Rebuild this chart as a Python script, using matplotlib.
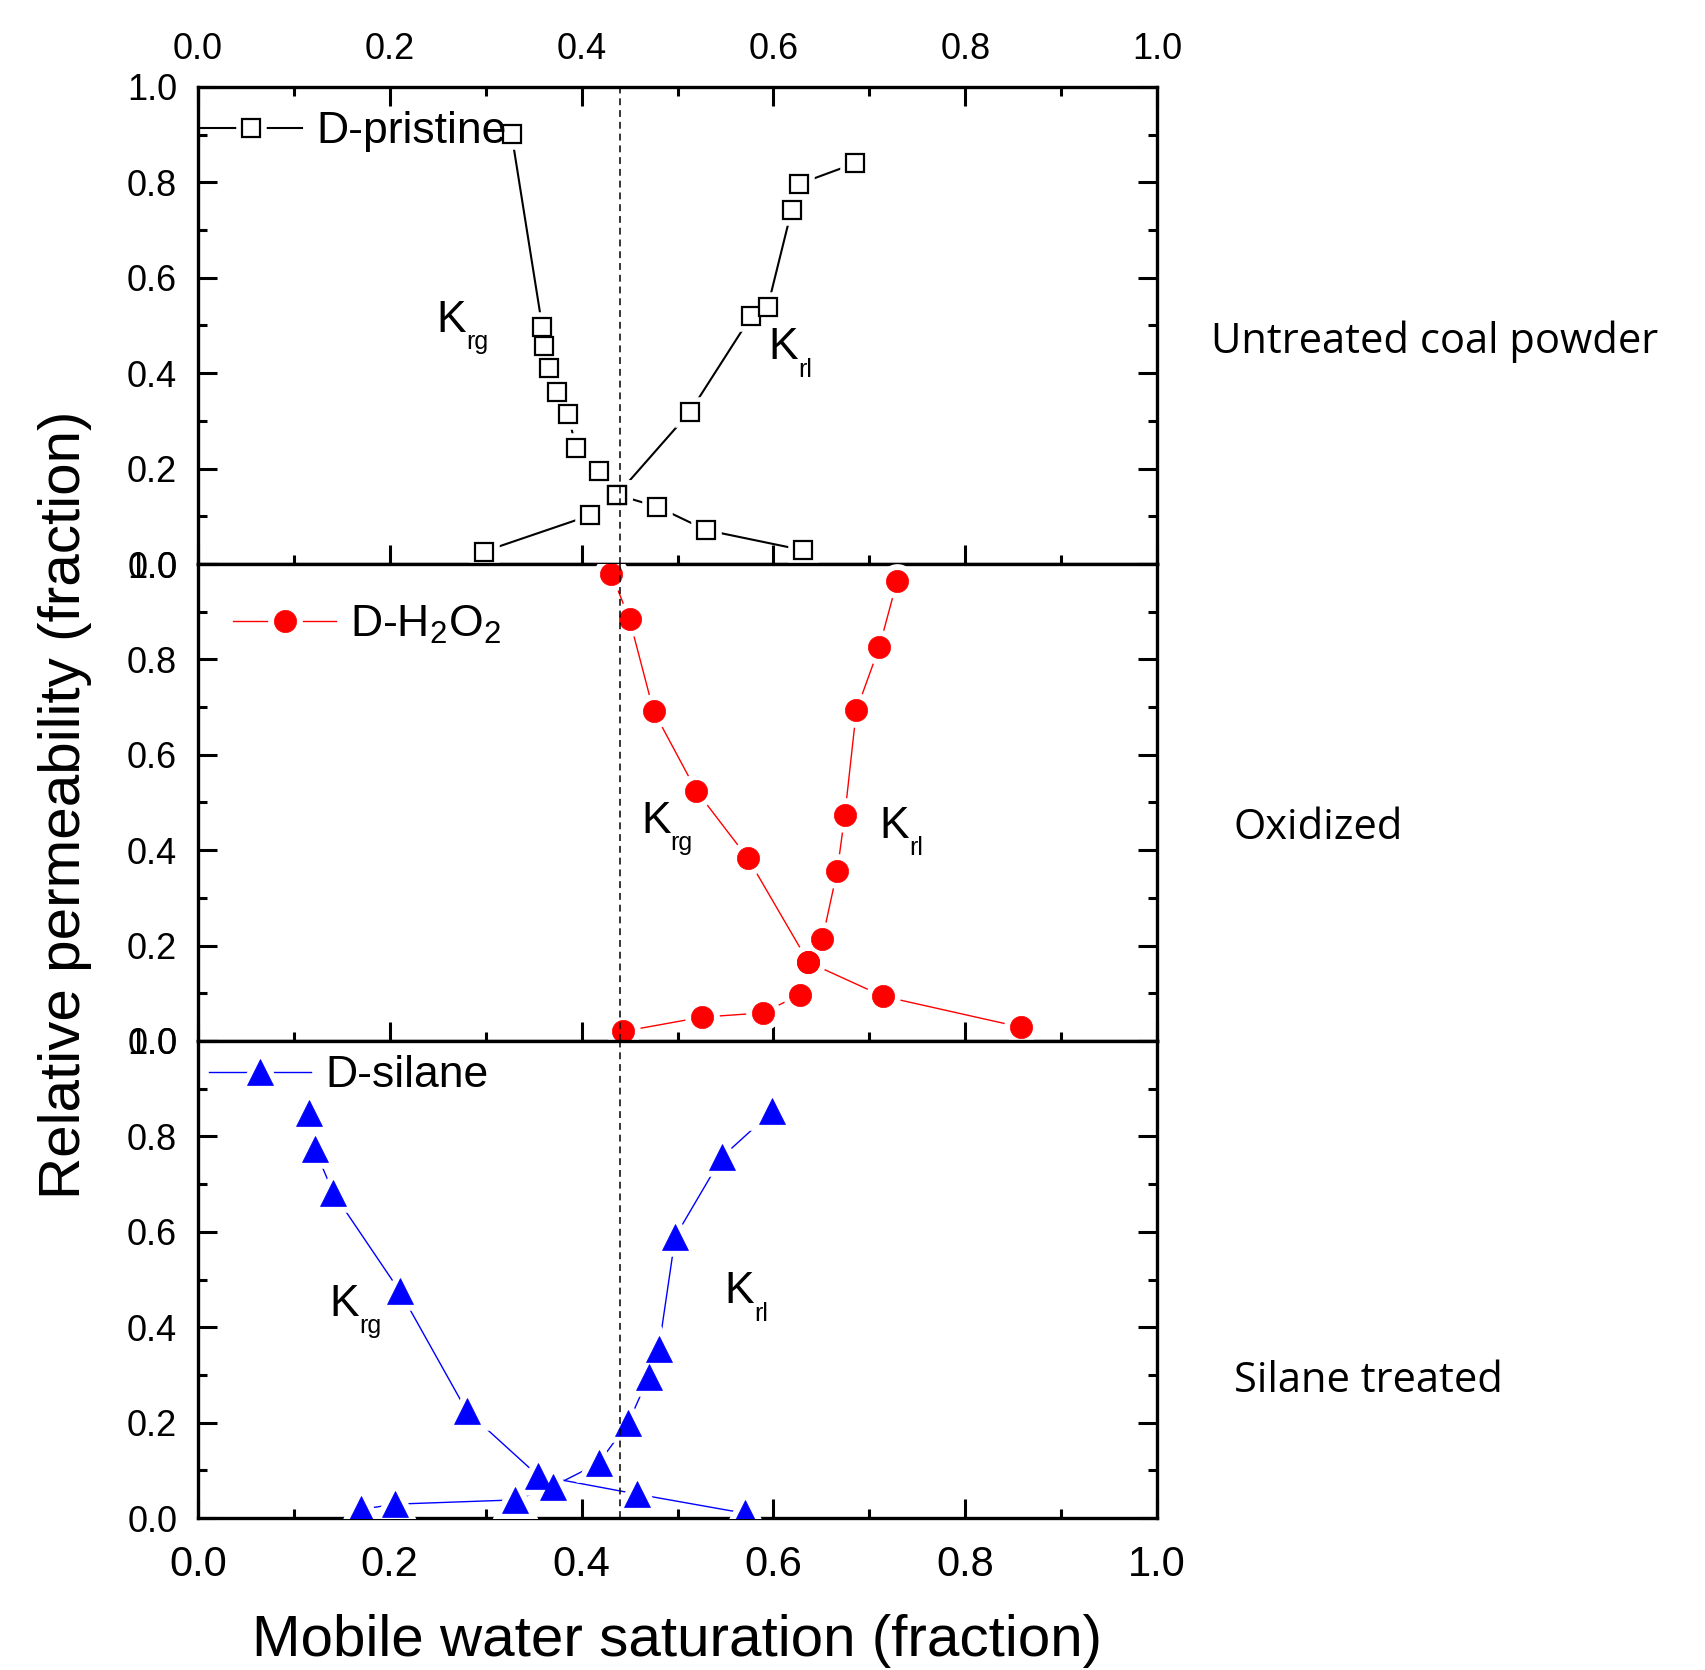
import matplotlib
matplotlib.use("Agg")
import matplotlib.pyplot as plt
from matplotlib.ticker import MultipleLocator, FormatStrFormatter
from matplotlib.legend_handler import HandlerTuple

plt.rcParams["font.family"] = ["Liberation Sans", "DejaVu Sans"]
plt.rcParams["mathtext.fontset"] = "custom"
plt.rcParams["mathtext.rm"] = "Liberation Sans"
plt.rcParams["mathtext.it"] = "Liberation Sans:italic"

# ---- data: mobile water saturation vs relative permeability ----
# Untreated coal powder (D-pristine)
pristine_krg_x = [0.327, 0.359, 0.3605, 0.366, 0.374, 0.386, 0.394, 0.418, 0.437, 0.479, 0.530, 0.631]
pristine_krg_y = [0.901, 0.497, 0.457, 0.410, 0.361, 0.314, 0.244, 0.196, 0.145, 0.120, 0.071, 0.029]
pristine_krl_x = [0.298, 0.409, 0.437, 0.513, 0.577, 0.594, 0.619, 0.627, 0.685]
pristine_krl_y = [0.026, 0.102, 0.145, 0.319, 0.520, 0.539, 0.742, 0.797, 0.840]

# Oxidized (D-H2O2)
h2o2_krg_x = [0.431, 0.450, 0.475, 0.5195, 0.5735, 0.6366, 0.714, 0.858]
h2o2_krg_y = [0.980, 0.884, 0.692, 0.525, 0.383, 0.165, 0.094, 0.029]
h2o2_krl_x = [0.443, 0.5256, 0.5893, 0.6273, 0.6366, 0.651, 0.6666, 0.6745, 0.6865, 0.7106, 0.7289]
h2o2_krl_y = [0.020, 0.050, 0.059, 0.097, 0.165, 0.213, 0.357, 0.474, 0.693, 0.827, 0.964]

# Silane treated (D-silane)
silane_krg_x = [0.1158, 0.1219, 0.1409, 0.2102, 0.280, 0.3544, 0.458, 0.570]
silane_krg_y = [0.850, 0.773, 0.682, 0.476, 0.225, 0.089, 0.050, 0.010]
silane_krl_x = [0.1698, 0.2056, 0.331, 0.3698, 0.4177, 0.4488, 0.4698, 0.4805, 0.4977, 0.5465, 0.599]
silane_krl_y = [0.018, 0.029, 0.038, 0.066, 0.115, 0.200, 0.295, 0.355, 0.590, 0.757, 0.853]

reference_saturation = 0.44

panel_names = ["D-pristine", r"D-H$_\mathregular{2}$O$_\mathregular{2}$", "D-silane"]
panel_titles = ["Untreated coal powder", "Oxidized", "Silane treated"]

# ---- figure layout ----
W, H = 1705, 1670
fig = plt.figure(figsize=(W / 100, H / 100), dpi=100)

left_px, right_px = 198, 1157
tops_px = [87, 564, 1041]
panel_h = 477

axes = []
for t in tops_px:
    ax = fig.add_axes([left_px / W, 1 - (t + panel_h) / H,
                       (right_px - left_px) / W, panel_h / H])
    axes.append(ax)

styles = [
    dict(color="black", lw=1.5, marker="s", ms=13, mfc="white", mec="black", mew=1.6),
    dict(color="#ff0000", lw=1.0, marker="o", ms=16, mfc="#ff0000", mec="#ff0000", mew=0.5),
    dict(color="#0000ff", lw=1.0, marker="^", ms=19, mfc="#0000ff", mec="#0000ff", mew=0.5),
]

series = [
    ((pristine_krg_x, pristine_krg_y), (pristine_krl_x, pristine_krl_y)),
    ((h2o2_krg_x, h2o2_krg_y), (h2o2_krl_x, h2o2_krl_y)),
    ((silane_krg_x, silane_krg_y), (silane_krl_x, silane_krl_y)),
]

# legend anchors (axes fraction) and K-label anchors (data units)
legend_anchor = [(0.002, 0.906), (0.037, 0.872), (0.0116, 0.927)]
krg_label = [(0.249, 0.487), (0.462, 0.437), (0.137, 0.424)]
krl_label = [(0.595, 0.430), (0.711, 0.426), (0.549, 0.451)]
title_pos = [(1.056, 0.442), (1.080, 0.423), (1.080, 0.264)]

for i, ax in enumerate(axes):
    st = styles[i]
    (gx, gy), (lx, ly) = series[i]
    lines, halos, marks = [], [], []
    for xs, ys in [(gx, gy), (lx, ly)]:
        ln, = ax.plot(xs, ys, ls="-", color=st["color"], lw=st["lw"], zorder=2)
        lines.append(ln)
    for xs, ys in [(gx, gy), (lx, ly)]:
        hl, = ax.plot(xs, ys, ls="none", marker=st["marker"], ms=st["ms"],
                      mfc="white", mec="white", mew=9, zorder=3)
        halos.append(hl)
    for xs, ys in [(gx, gy), (lx, ly)]:
        mk, = ax.plot(xs, ys, ls="none", marker=st["marker"], ms=st["ms"],
                      mfc=st["mfc"], mec=st["mec"], mew=st["mew"], zorder=4)
        marks.append(mk)

    ax.axvline(reference_saturation, color="black", lw=1.1, dashes=(4.5, 3.2), zorder=10)

    ax.set_xlim(0, 1)
    ax.set_ylim(0, 1)
    ax.xaxis.set_major_locator(MultipleLocator(0.2))
    ax.xaxis.set_minor_locator(MultipleLocator(0.1))
    ax.yaxis.set_major_locator(MultipleLocator(0.2))
    ax.yaxis.set_minor_locator(MultipleLocator(0.1))
    ax.yaxis.set_major_formatter(FormatStrFormatter("%.1f"))
    ax.xaxis.set_major_formatter(FormatStrFormatter("%.1f"))
    for sp in ax.spines.values():
        sp.set_linewidth(2.4)
    ax.tick_params(which="both", direction="in", left=True, right=True,
                   bottom=True, top=(i == 0), width=2.2)
    ax.tick_params(which="major", length=13.5)
    ax.tick_params(which="minor", length=6.5)
    ax.tick_params(axis="y", which="major", labelsize=26, pad=15)
    if i == 0:
        # scale printed along the top edge of the upper panel
        ax.tick_params(axis="x", which="major", labelbottom=False, labeltop=True,
                       labelsize=26, pad=14.5)
    elif i == 1:
        ax.tick_params(axis="x", labelbottom=False)
    else:
        ax.tick_params(axis="x", which="major", labelsize=30, pad=19.5)

    leg = ax.legend([(lines[0], halos[0], marks[0])], [panel_names[i]],
                    handler_map={tuple: HandlerTuple(ndivide=1)},
                    loc="center left", bbox_to_anchor=legend_anchor[i],
                    bbox_transform=ax.transAxes, frameon=False, fontsize=32,
                    borderpad=0, borderaxespad=0, handlelength=2.3,
                    handletextpad=0.32, numpoints=1)
    leg.set_zorder(11)

    for (kx, ky), sub in [(krg_label[i], "rg"), (krl_label[i], "rl")]:
        ax.text(kx, ky, "K", fontsize=32, ha="left", va="baseline", zorder=12)
        ax.annotate(sub, xy=(kx, ky), xytext=(21.3, -12.7), textcoords="offset points",
                    fontsize=18, ha="left", va="baseline", zorder=12)

    tx, ty = title_pos[i]
    ax.text(tx, ty, panel_titles[i], transform=ax.transAxes, fontsize=30,
            family=["Open Sans", "DejaVu Sans"], ha="left", va="baseline", clip_on=False)

fig.text((left_px + right_px) / 2 / W, 1 - 1656 / H, "Mobile water saturation (fraction)",
         fontsize=42, ha="center", va="baseline")
fig.text(65 / W, 1 - 805 / H, "Relative permeability (fraction)",
         fontsize=42, ha="center", va="center", rotation=90)

fig.savefig("out.png", dpi=100, facecolor="white")
